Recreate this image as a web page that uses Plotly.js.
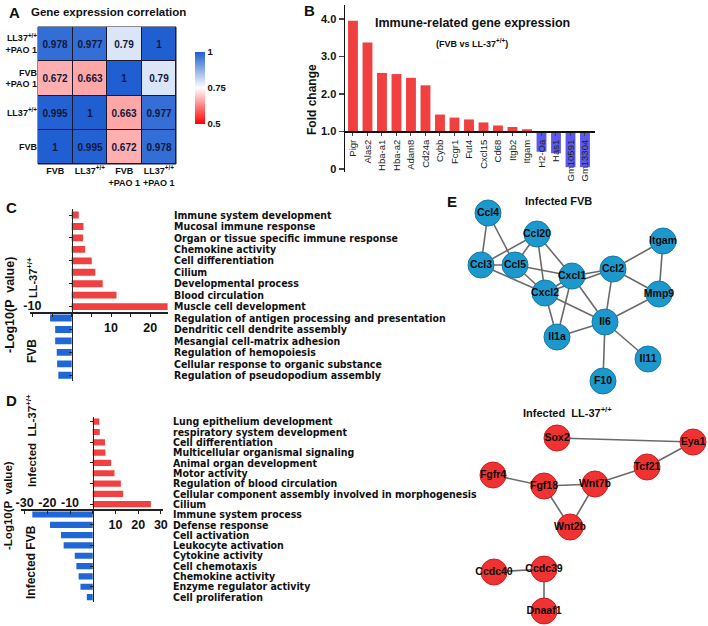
<!DOCTYPE html>
<html><head><meta charset="utf-8">
<script src="https://cdn.plot.ly/plotly-3.0.1.min.js"></script>
<style>html,body{margin:0;padding:0;background:#fff}#chart{width:708px;height:626px}</style>
</head><body><div id="chart"></div>
<script>
// ---------- Panel A: correlation ----------
const corrLabels = ['FVB', 'LL37<sup>+/+</sup>', 'FVB<br>+PAO 1', 'LL37<sup>+/+</sup><br>+PAO 1'];
const corrFVB      = [1, 0.995, 0.672, 0.978];
const corrLL37     = [0.995, 1, 0.663, 0.977];
const corrFVBPAO   = [0.672, 0.663, 1, 0.79];
const corrLL37PAO  = [0.978, 0.977, 0.79, 1];
const corrTicks    = [0.5, 0.75, 1];

// ---------- Panel B: fold change ----------
const geneNames = ['Pigr','Alas2','Hba-a1','Hba-a2','Adam8','Cd24a','Cybb','Fcgr1','Fut4','Cxcl15','Cd68','Itgb2','Itgam','H2-Oa','Has1','Gm10591','Gm13304'];
const geneFold  = [3.95, 3.37, 2.56, 2.53, 2.43, 2.23, 1.45, 1.37, 1.32, 1.24, 1.16, 1.12, 1.06, 0.46, 0.42, 0.05, 0.05];
const foldTicks = [0, 1, 2, 3, 4];
const foldTickText = ['0', '1.0', '2.0', '3.0', '4.0'];

// ---------- Panel C ----------
const cLL37Terms = ['Immune system development','Mucosal immune response','Organ or tissue specific immune response','Chemokine activity','Cell differentiation','Cilium','Developmental process','Blood circulation','Muscle cell development'];
const cLL37Vals  = [1.8, 3.0, 2.9, 3.4, 5.1, 6.0, 7.9, 11.4, 24.4];
const cFVBTerms  = ['Regulation of antigen processing and presentation','Dendritic cell dendrite assembly','Mesangial cell-matrix adhesion','Regulation of hemopoiesis','Cellular response to organic substance','Regulation of pseudopodium assembly'];
const cFVBVals   = [5.5, 4.2, 4.2, 3.8, 3.7, 3.4];

// ---------- Panel D ----------
const dLL37Terms = ['Lung epithelium development','respiratory system development','Cell differentiation','Multicellular organismal signaling','Animal organ development','Motor activity','Regulation of blood circulation','Cellular component assembly involved in morphogenesis','Cilium'];
const dLL37Vals  = [2.9, 3.1, 5.4, 5.6, 8.1, 9.6, 12.4, 13.4, 25.6];
const dFVBTerms  = ['Immune system process','Defense response','Cell activation','Leukocyte activation','Cytokine activity','Cell chemotaxis','Chemokine activity','Enzyme regulator activity','Cell proliferation'];
const dFVBVals   = [26.6, 18.8, 14.0, 12.8, 7.9, 7.2, 6.2, 5.4, 2.6];

// ---------- Panel E: networks (layout coordinates) ----------
const fvbNodes = ['Ccl4','Ccl20','Ccl3','Ccl5','Cxcl1','Ccl2','Itgam','Cxcl2','Mmp9','Il6','Il1a','Il11','F10'];
const fvbX     = [488, 537, 481, 515, 572, 613, 663, 545, 659, 605, 557, 648, 603];
const fvbY     = [213, 234, 265, 265, 276, 269, 241, 293, 294, 322, 337, 359, 381];
const fvbEdges = [['Ccl4','Ccl3'],['Ccl4','Ccl5'],['Ccl20','Ccl3'],['Ccl20','Ccl5'],['Ccl20','Cxcl2'],['Ccl20','Cxcl1'],
                  ['Ccl3','Ccl5'],['Ccl3','Cxcl2'],['Ccl5','Cxcl1'],['Ccl5','Cxcl2'],['Cxcl1','Ccl2'],['Cxcl2','Ccl2'],
                  ['Cxcl1','Cxcl2'],['Cxcl1','Il1a'],['Cxcl1','Il6'],['Cxcl2','Il1a'],['Cxcl2','Il6'],['Ccl2','Itgam'],
                  ['Ccl2','Mmp9'],['Ccl2','Il6'],['Itgam','Mmp9'],['Mmp9','Il6'],['Il6','Il1a'],['Il6','Il11'],['Il6','F10']];
const llNodes  = ['Sox2','Eya1','Tcf21','Fgfr4','Fgf18','Wnt7b','Wnt2b','Ccdc40','Ccdc39','Dnaaf1'];
const llX      = [557, 693, 647, 493, 544, 595, 570, 494, 544, 544];
const llY      = [438, 442, 467, 475, 486, 484, 527, 572, 569, 611];
const llEdges  = [['Sox2','Eya1'],['Eya1','Tcf21'],['Tcf21','Wnt7b'],['Fgfr4','Fgf18'],['Fgf18','Wnt7b'],['Fgf18','Wnt2b'],
                  ['Wnt7b','Wnt2b'],['Ccdc40','Ccdc39'],['Ccdc39','Dnaaf1']];

// ---------- helpers ----------
const W = 708, H = 626;
const xd = (a, b) => [a / W, b / W];
const yd = (top, bot) => [1 - bot / H, 1 - top / H];
const FONT = 'Liberation Sans, Arial, sans-serif';
const NARROW = 'DejaVu Sans Condensed, Liberation Sans Narrow, Arial Narrow, sans-serif';
const RED = '#f04040', BLUE_B = '#5a5af0', BLUE_C = '#1f66d6';

function posAt(domain, range, v) { return domain[0] + (v - range[0]) / (range[1] - range[0]) * (domain[1] - domain[0]); }

function edgeXY(names, xs, ys, edges) {
  const ex = [], ey = [];
  edges.forEach(([a, b]) => { const i = names.indexOf(a), j = names.indexOf(b);
    ex.push(xs[i], xs[j], null); ey.push(ys[i], ys[j], null); });
  return [ex, ey];
}

const traces = [];
const layout = {
  width: W, height: H, margin: {l: 0, r: 0, t: 0, b: 0},
  paper_bgcolor: '#fff', plot_bgcolor: 'rgba(0,0,0,0)', showlegend: false,
  font: {family: FONT, color: '#111'}, annotations: [], shapes: []
};

// ---- A ----
traces.push({
  type: 'heatmap', x: corrLabels, y: corrLabels,
  z: [corrFVB, corrLL37, corrFVBPAO, corrLL37PAO],
  zmin: 0.5, zmax: 1, xgap: 1, ygap: 1,
  colorscale: [[0, '#ff0000'], [0.5, '#ffffff'], [1, '#1f5fd2']],
  texttemplate: '%{z}', textfont: {size: 10, color: '#10183a', weight: 700},
  hoverinfo: 'skip', xaxis: 'x', yaxis: 'y',
  colorbar: {x: 195 / W, xanchor: 'left', y: 1 - 88 / H, yanchor: 'middle', lenmode: 'pixels', len: 72,
             thickness: 10, outlinewidth: 0, xpad: 0, ypad: 0, ticks: '', tickvals: corrTicks,
             ticktext: corrTicks.map(String), tickfont: {size: 9.5, weight: 700, color: '#111'}}
});
layout.xaxis = {domain: xd(38, 176), anchor: 'y', showgrid: false, zeroline: false, ticks: '',
  tickfont: {size: 9, weight: 700}, fixedrange: true};
layout.yaxis = {domain: yd(27, 164), anchor: 'x', showgrid: false, zeroline: false, ticks: '',
  tickfont: {size: 9, weight: 700}, fixedrange: true};
layout.shapes.push({type: 'rect', xref: 'x domain', yref: 'y domain', x0: 0, x1: 1, y0: 0, y1: 1,
  fillcolor: '#1a1a2a', line: {width: 1, color: '#1a1a2a'}, layer: 'below'});

// ---- B ----
const bYRange = [-0.08, 4.37], bYDom = yd(5, 172);
traces.push({
  type: 'bar', x: geneNames, y: geneFold.map(v => v - 1), base: 1, width: 0.68,
  marker: {color: geneFold.map(v => v >= 1 ? RED : BLUE_B), line: {width: 0}},
  xaxis: 'x2', yaxis: 'y2', hoverinfo: 'skip'
});
layout.xaxis2 = {domain: xd(345, 595), range: [-0.55, 16.69], anchor: 'free', position: posAt(bYDom, bYRange, 1),
  showline: true, linewidth: 1.5, linecolor: '#111', ticks: 'outside', ticklen: 3, tickwidth: 1,
  tickangle: -90, tickfont: {size: 9.5, color: '#222'}, showgrid: false, zeroline: false};
layout.yaxis2 = {domain: bYDom, range: bYRange, anchor: 'x2', position: 345 / W,
  showline: true, linewidth: 1.5, linecolor: '#111', ticks: 'outside', ticklen: 5, tickwidth: 1.5,
  tickvals: foldTicks, ticktext: foldTickText, tickfont: {size: 11, weight: 700},
  showgrid: false, zeroline: false};

// ---- C / D ----
function hPanel(red, redVals, blue, blueVals, xn, yn, xDom, yDom, xRange, bottomTicks, bottomText, topTicks, labelPos) {
  const terms = red.concat(blue);
  const n = terms.length;
  const yRange = [n - 0.5, -0.5];
  const xa = 'x' + xn, ya = 'y' + yn, xa2 = 'x' + (xn + 1), ya2 = 'y' + (yn + 1);
  traces.push({type: 'bar', orientation: 'h', y: red, x: redVals, width: 0.6, marker: {color: RED},
    xaxis: xa, yaxis: ya, hoverinfo: 'skip'});
  traces.push({type: 'bar', orientation: 'h', y: blue, x: blueVals.map(v => -v), width: 0.6, marker: {color: BLUE_C},
    xaxis: xa, yaxis: ya, hoverinfo: 'skip'});
  traces.push({type: 'scatter', x: [], y: [], xaxis: xa2, yaxis: ya, hoverinfo: 'skip'});
  traces.push({type: 'scatter', x: [], y: [], xaxis: xa, yaxis: ya2, hoverinfo: 'skip'});
  const axisY = posAt(yDom, yRange, red.length - 0.5);
  const axisX = posAt(xDom, xRange, 0);
  layout['xaxis' + xn] = {domain: xDom, range: xRange, anchor: 'free', position: axisY,
    showline: true, linewidth: 1.2, linecolor: '#222', ticks: 'outside', ticklen: 3, tickcolor: '#222',
    tickvals: bottomTicks, ticktext: bottomText, tickfont: {size: 12.5, weight: 700}, showgrid: false, zeroline: false};
  layout['xaxis' + (xn + 1)] = {overlaying: xa, range: xRange, anchor: 'free', position: axisY, side: 'top',
    showline: false, ticks: '', tickvals: topTicks, ticktext: topTicks.map(v => String(v)),
    tickfont: {size: 12.5, weight: 700}, showgrid: false, zeroline: false};
  layout['yaxis' + yn] = {domain: yDom, type: 'category', categoryarray: terms, range: yRange, anchor: 'free',
    position: axisX, showline: true, linewidth: 1.2, linecolor: '#222', ticks: 'outside', ticklen: 3,
    tickcolor: '#222', showticklabels: false, showgrid: false, zeroline: false};
  layout['yaxis' + (yn + 1)] = {overlaying: ya, side: 'right', anchor: 'free', position: labelPos, range: yRange,
    tickvals: terms.map((t, i) => i), ticktext: terms, ticks: '', showline: false, showgrid: false, zeroline: false,
    tickfont: {family: NARROW, size: 10.5, weight: 700, color: '#111'}};
}
hPanel(cLL37Terms, cLL37Vals, cFVBTerms, cFVBVals, 3, 3, xd(30.4, 168.4), yd(209.3, 381), [-10.5, 24.6],
  [-10, -5, 0, 5, 10, 15, 20], ['', '', '', '', '10', '', '20'], [-10], 173 / W);
hPanel(dLL37Terms, dLL37Vals, dFVBTerms, dFVBVals, 5, 5, xd(21.2, 163.1), yd(416.5, 602.2), [-31.5, 31],
  [-30, -20, -10, 0, 10, 20, 30], ['', '', '', '', '10', '20', '30'], [-30, -20, -10], 172 / W);

// ---- E ----
const [fex, fey] = edgeXY(fvbNodes, fvbX, fvbY, fvbEdges);
const [lex, ley] = edgeXY(llNodes, llX, llY, llEdges);
traces.push({type: 'scatter', mode: 'lines', x: fex, y: fey, line: {color: '#6a6a6a', width: 1.6}, xaxis: 'x7', yaxis: 'y7', hoverinfo: 'skip'});
traces.push({type: 'scatter', mode: 'lines', x: lex, y: ley, line: {color: '#6a6a6a', width: 1.6}, xaxis: 'x7', yaxis: 'y7', hoverinfo: 'skip'});
traces.push({type: 'scatter', mode: 'markers+text', x: fvbX, y: fvbY, text: fvbNodes, textposition: 'middle center',
  marker: {size: 26, color: '#1d98cc', line: {color: '#1479a8', width: 1}},
  textfont: {size: 10.5, weight: 700, color: '#0a0a0a'}, xaxis: 'x7', yaxis: 'y7', hoverinfo: 'skip', cliponaxis: false});
traces.push({type: 'scatter', mode: 'markers+text', x: llX, y: llY, text: llNodes, textposition: 'middle center',
  marker: {size: 26, color: '#f03232', line: {color: '#c82020', width: 1}},
  textfont: {size: 10.5, weight: 700, color: '#0a0a0a'}, xaxis: 'x7', yaxis: 'y7', hoverinfo: 'skip', cliponaxis: false});
layout.xaxis7 = {domain: xd(430, 708), range: [430, 708], anchor: 'y7', visible: false};
layout.yaxis7 = {domain: yd(190, 626), range: [626, 190], anchor: 'x7', visible: false};

// ---- text annotations ----
function ann(text, x, y, opts) {
  layout.annotations.push(Object.assign({text, x: x / W, y: 1 - y / H, xref: 'paper', yref: 'paper',
    showarrow: false, xanchor: 'center', yanchor: 'middle', font: {size: 12, weight: 700, color: '#111'}}, opts || {}));
}
ann('A', 7, 12, {xanchor: 'left', font: {size: 15, weight: 700}});
ann('Gene expression correlation', 108, 12, {font: {size: 11.5, weight: 700}});
ann('B', 302, 11, {xanchor: 'left', font: {size: 15, weight: 700}});
ann('Immune-related gene expression', 472, 23, {font: {size: 12.5, weight: 700}});
ann('(FVB vs LL-37<sup>+/+</sup>)', 472, 43, {font: {size: 9, weight: 700}});
ann('Fold change', 312, 100, {textangle: -90, font: {size: 12, weight: 700}});
ann('C', 11, 207, {font: {size: 15, weight: 700}});
ann('-Log10(P  value)', 10, 305, {textangle: -90, font: {size: 12.5, weight: 700}});
ann('LL-37<sup>+/+</sup>', 32, 278, {textangle: -90, font: {size: 11, weight: 700}});
ann('FVB', 32, 351, {textangle: -90, font: {size: 12, weight: 700}});
ann('D', 11, 400, {font: {size: 15, weight: 700}});
ann('-Log10(P  value)', 8, 506, {textangle: -90, font: {size: 11.5, weight: 700}});
ann('Infected  LL-37<sup>+/+</sup>', 31, 441, {textangle: -90, font: {size: 11.5, weight: 700}});
ann('Infected FVB', 31, 562, {textangle: -90, font: {size: 12, weight: 700}});
ann('E', 452, 202, {font: {size: 15, weight: 700}});
ann('Infected FVB', 558, 201, {font: {size: 11, weight: 700}});
ann('Infected  LL-37<sup>+/+</sup>', 567, 412, {font: {size: 11, weight: 700}});

Plotly.newPlot('chart', traces, layout, {staticPlot: true, displayModeBar: false});
</script></body></html>
